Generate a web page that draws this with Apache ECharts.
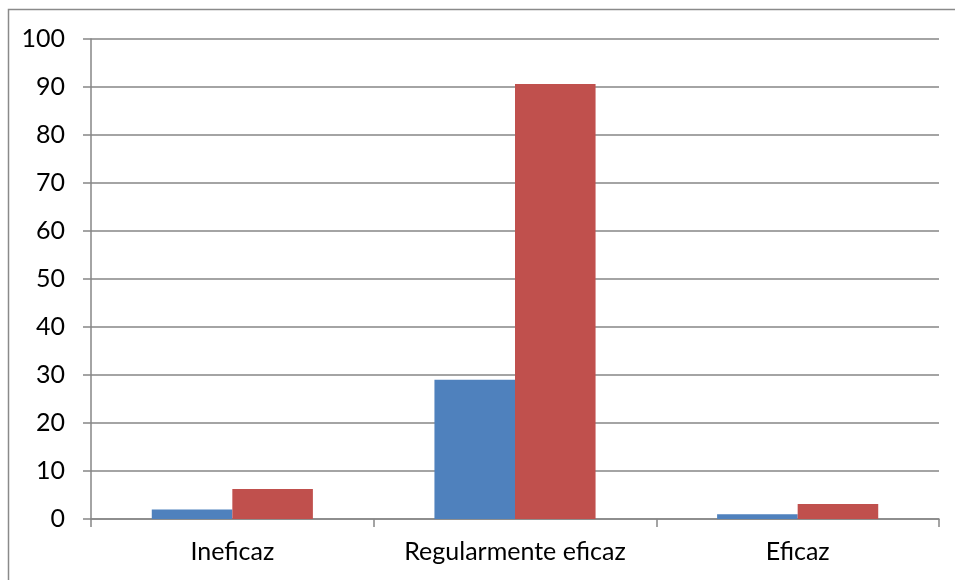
<!DOCTYPE html>
<html><head><meta charset="utf-8">
<script src="https://cdn.jsdelivr.net/npm/echarts@6/dist/echarts.min.js"></script>
<style>html,body{margin:0;padding:0;background:#fff}#c{width:955px;height:580px}</style>
</head><body><div id="c"></div>
<script>
var categories = ["Ineficaz", "Regularmente eficaz", "Eficaz"];
var seriesBlue = [2.0, 29.0, 1.0];
var seriesRed = [6.25, 90.6, 3.1];
var yTicks = [0, 10, 20, 30, 40, 50, 60, 70, 80, 90, 100];

var chart = echarts.init(document.getElementById('c'), null, {renderer: 'canvas'});
var font = 'Lato, "Open Sans", sans-serif';
chart.setOption({
  animation: false,
  backgroundColor: '#fff',
  graphic: [{
    type: 'rect', shape: {x: 8.5, y: 9.5, width: 960, height: 600},
    style: {fill: 'none', stroke: '#8a8a8a', lineWidth: 1.5}, z: 100
  }],
  grid: {left: 91, right: 16, top: 39, bottom: 61, containLabel: false},
  xAxis: {
    type: 'category', data: categories,
    axisLine: {lineStyle: {color: '#868686', width: 1.5}},
    axisTick: {show: true, interval: 0, alignWithLabel: false, length: 8, lineStyle: {color: '#868686', width: 1.5}},
    axisLabel: {interval: 0, hideOverlap: false, color: '#000', fontFamily: font, fontSize: 25, margin: 20}
  },
  yAxis: {
    type: 'value', min: yTicks[0], max: yTicks[yTicks.length - 1], interval: 10,
    axisLine: {show: true, lineStyle: {color: '#868686', width: 1.5}},
    axisTick: {show: true, length: 8, lineStyle: {color: '#868686', width: 1.5}},
    axisLabel: {color: '#000', fontFamily: font, fontSize: 25, margin: 26},
    splitLine: {show: true, lineStyle: {color: '#868686', width: 1.5}}
  },
  series: [
    {type: 'bar', data: seriesBlue, barGap: '0%', barCategoryGap: '43%',
     itemStyle: {color: '#4F81BD'}, z: 3},
    {type: 'bar', data: seriesRed, barGap: '0%', barCategoryGap: '43%',
     itemStyle: {color: '#C0504D'}, z: 3}
  ]
});
</script></body></html>
